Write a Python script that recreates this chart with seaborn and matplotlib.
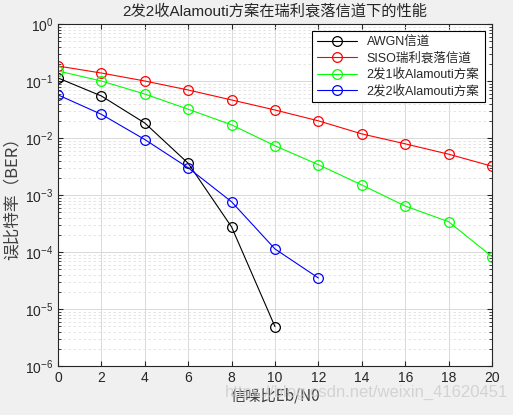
import numpy as np
import pandas as pd
import matplotlib
matplotlib.use("Agg")
import matplotlib.pyplot as plt
import seaborn as sns
from matplotlib.ticker import LogLocator, NullFormatter

# data
snr_awgn = [0, 2, 4, 6, 8, 10]
ber_awgn = [0.113, 0.0546, 0.0183, 0.0036, 2.75e-4, 4.9e-6]

snr_siso = [0, 2, 4, 6, 8, 10, 12, 14, 16, 18, 20]
ber_siso = [0.183, 0.138, 0.1, 0.0695, 0.0465, 0.031, 0.02, 0.0118, 0.0079, 0.0052, 0.0032]

snr_21 = [0, 2, 4, 6, 8, 10, 12, 14, 16, 18, 20]
ber_21 = [0.15, 0.1, 0.059, 0.032, 0.017, 0.0073, 0.0034, 0.0015, 6.4e-4, 3.4e-4, 8.3e-5]

snr_22 = [0, 2, 4, 6, 8, 10, 12]
ber_22 = [0.057, 0.026, 0.0094, 0.003, 7.6e-4, 1.13e-4, 3.5e-5]

names = ["AWGN信道", "SISO瑞利衰落信道", "2发1收Alamouti方案", "2发2收Alamouti方案"]
colors = ["black", "red", "#00ff00", "blue"]

df = pd.concat([
    pd.DataFrame({"snr": snr_awgn, "ber": ber_awgn, "scheme": names[0]}),
    pd.DataFrame({"snr": snr_siso, "ber": ber_siso, "scheme": names[1]}),
    pd.DataFrame({"snr": snr_21, "ber": ber_21, "scheme": names[2]}),
    pd.DataFrame({"snr": snr_22, "ber": ber_22, "scheme": names[3]}),
])

sns.set_style("ticks")
plt.rcParams['font.family'] = ['Arial', 'Liberation Sans', 'Noto Sans CJK SC', 'DejaVu Sans']
plt.rcParams['mathtext.fontset'] = 'custom'
plt.rcParams['mathtext.rm'] = 'Liberation Sans'

fig = plt.figure(figsize=(5.13, 4.15), dpi=100, facecolor="#f0f0f0")
ax = fig.add_axes([58/513, 1 - 366/415, (492-58)/513, (366-24)/415])

sns.lineplot(data=df, x="snr", y="ber", hue="scheme", hue_order=names,
             palette=colors, marker="o", markersize=7, markerfacecolor="none",
             markeredgewidth=0.9, linewidth=0.8, ax=ax, sort=False, legend=False)
for ln, c in zip(ax.lines, colors):
    ln.set_markeredgecolor(c)

ax.set_yscale("log")
ax.set_xlim(0, 20)
ax.set_ylim(1e-6, 1)
ax.set_xticks(range(0, 21, 2))
ax.yaxis.set_major_locator(LogLocator(base=10, numticks=10))
ax.yaxis.set_minor_locator(LogLocator(base=10, subs=np.arange(2, 10), numticks=100))
ax.yaxis.set_minor_formatter(NullFormatter())
ax.grid(True, which="major", color="#d9d9d9", linewidth=0.7)
ax.grid(True, which="minor", axis="y", color="#e0e0e0", linestyle=(0, (3, 3)), linewidth=0.6)
ax.tick_params(which="both", direction="in", top=True, right=True, labelsize=10, colors="#262626")
ax.tick_params(which="minor", length=2)
for s in ax.spines.values():
    s.set_color("#262626")
    s.set_linewidth(0.8)

ax.set_title("2发2收Alamouti方案在瑞利衰落信道下的性能", fontsize=11, color="#262626", pad=6)
ax.set_xlabel("信噪比Eb/N0", fontsize=11, color="#404040",
              family=['Noto Sans CJK SC', 'DejaVu Sans'], labelpad=2)
ax.set_ylabel("误比特率（BER）", fontsize=12, color="#404040",
              family=['Noto Sans CJK SC', 'DejaVu Sans'], labelpad=3)

leg = ax.legend(ax.lines[:4], names, loc="upper right", fontsize=9, frameon=True,
                fancybox=False, edgecolor="black", framealpha=1, handlelength=3.2,
                borderaxespad=0.6, labelspacing=0.3)
leg.get_frame().set_linewidth(0.8)

fig.text(0.99, 0.035, "https://blog.csdn.net/weixin_41620451", ha="right", va="bottom",
         fontsize=12, color="#cccccc", alpha=0.8)

fig.savefig("out.png", dpi=100, facecolor=fig.get_facecolor())
